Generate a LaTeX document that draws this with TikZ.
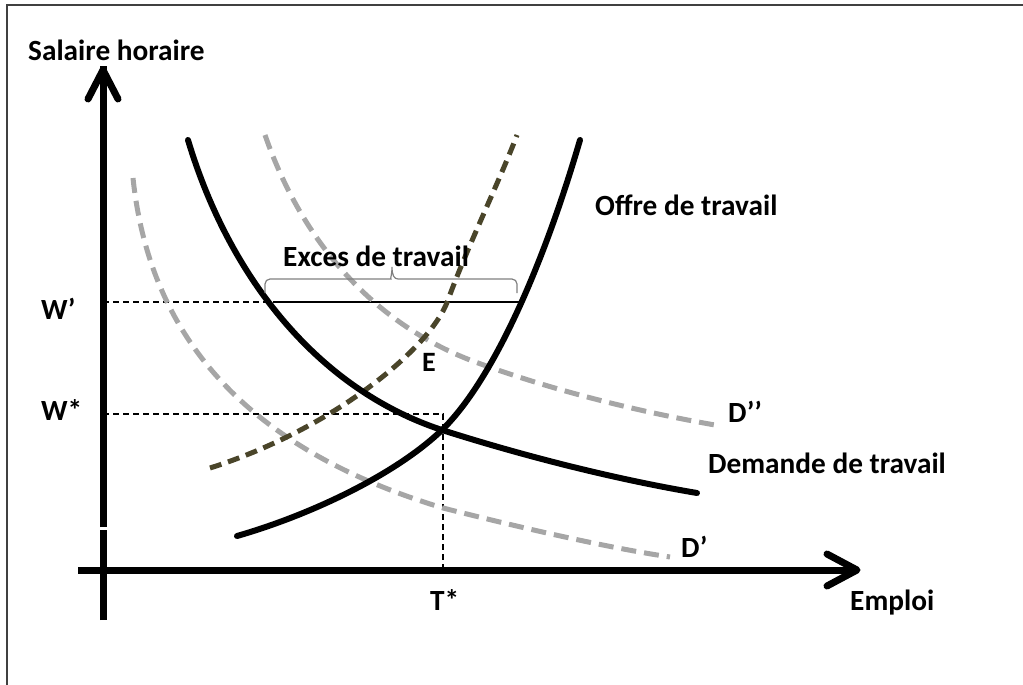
\documentclass[tikz,border=0pt]{standalone}
\usepackage{fontspec}
\setmainfont{Carlito}
\begin{document}
\begin{tikzpicture}[x=1pt,y=-1pt,
  lbl/.style={inner sep=0pt,anchor=base west,font=\fontsize{29.3}{33}\selectfont\bfseries},
  axis/.style={line width=7pt},
  chev/.style={line width=7pt,line cap=round,line join=round},
  curve/.style={line width=6pt,line cap=round},
  greyd/.style={line width=5pt,draw={rgb,255:red,166;green,166;blue,166},dash pattern=on 15pt off 8pt},
  olived/.style={line width=5pt,draw={rgb,255:red,74;green,69;blue,42},dash pattern=on 12pt off 7pt},
  thind/.style={line width=1.3pt,dash pattern=on 6pt off 4pt},
  thin/.style={line width=1.3pt},
  bracestyle/.style={line width=1.2pt,draw={rgb,255:red,128;green,128;blue,128}},
  frame/.style={line width=2pt,draw={rgb,255:red,64;green,64;blue,64}}]
\useasboundingbox (0,0) rectangle (1023,685);
\draw[frame] (7,690) -- (7,5) -- (1030,5);

% axes
\coordinate (ytip) at (103,70);
\coordinate (ybot) at (103,620);
\coordinate (ygap1) at (103,530);
\coordinate (ygap2) at (103,527);
\coordinate (xtip) at (857,570);
\coordinate (xleft) at (78,570);
\draw[axis] (ybot) -- (ygap1);
\draw[axis] (ygap2) -- ([yshift=4pt]ytip);
\draw[chev] (88,99) -- (ytip) -- (118,99);
\draw[axis] (xleft) -- ([xshift=-4pt]xtip);
\draw[chev] (827,554) -- (xtip) -- (827,586);

% guide lines
\coordinate (wp0) at (103,302);
\coordinate (wp1) at (277,302);
\coordinate (wp2) at (522,302);
\coordinate (ws0) at (103,414);
\coordinate (E0) at (443,414);
\coordinate (T0) at (443,570);
\draw[thind] (wp0) -- (wp1);
\draw[thin] (wp1) -- (wp2);
\draw[thind] (ws0) -- (E0) -- (T0);

% D' and D''
\draw[greyd] (133,178) .. controls (150,340) and (250,450) .. (443,508) .. controls (530,530) and (610,548) .. (670,557);
\draw[greyd] (265,135) .. controls (305,250) and (380,325) .. (470,360) .. controls (550,390) and (640,412) .. (715,425);
% olive dashed
\draw[olived] (210,468) .. controls (330,430) and (430,350) .. (448,300) .. controls (466,250) and (500,180) .. (517,135);
% demand
\draw[curve] (188,140) .. controls (230,280) and (320,390) .. (442,430) .. controls (530,458) and (620,480) .. (697,493);
% supply
\draw[curve] (237,536) .. controls (310,515) and (395,475) .. (442,430) .. controls (495,378) and (545,260) .. (580,140);

% brace
\draw[bracestyle] (265,293) [rounded corners=5pt] -- (265,279) -- (386,279) [sharp corners] .. controls (390,279) and (392,275) .. (392,267) .. controls (392,275) and (394,279) .. (398,279) [rounded corners=5pt] -- (517,279) -- (517,293);

% labels
\node[lbl] (sal) at (28,61) {Salaire horaire};
\node[lbl] (off) at (595,215) {Offre de travail};
\node[lbl] (exc) at (283,266) {Exces de travail};
\node[lbl] (wp) at (41,319) {W’};
\node[lbl] (ws) at (41,420) {W*};
\node[lbl,font=\fontsize{28}{32}\selectfont\bfseries] (E) at (422,371) {E};
\node[lbl] (dpp) at (728,422) {D’’};
\node[lbl] (dem) at (708,473) {Demande de travail};
\node[lbl] (dp) at (681,557) {D’};
\node[lbl] (ts) at (430,610) {T*};
\node[lbl] (emp) at (850,610) {Emploi};
\end{tikzpicture}
\end{document}
